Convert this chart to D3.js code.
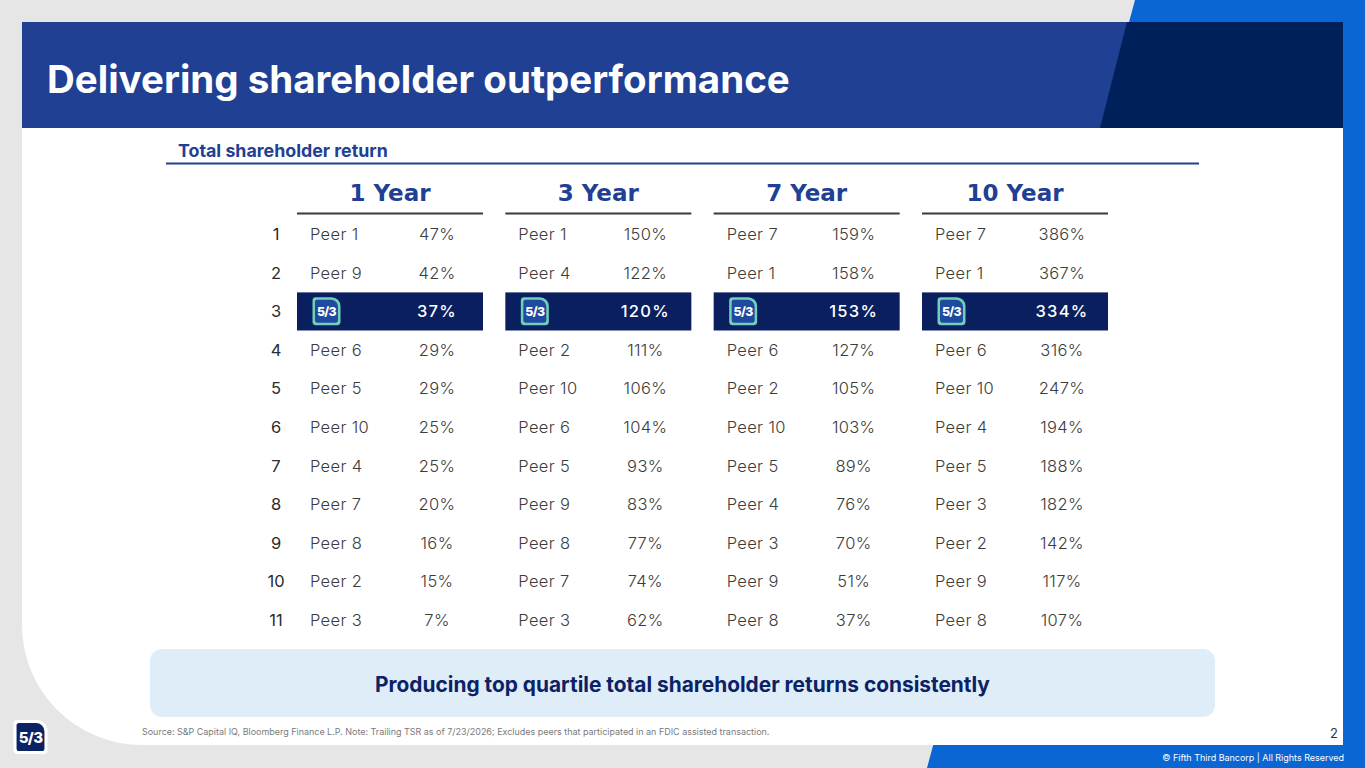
<!DOCTYPE html>
<html><head><meta charset="utf-8">
<script src="https://cdn.jsdelivr.net/npm/d3@7"></script>
<style>html,body{margin:0;padding:0;background:#e6e6e6;overflow:hidden}svg{display:block}</style>
</head><body>
<script>
const periods = ["1 Year","3 Year","7 Year","10 Year"];
const ranks = [1,2,3,4,5,6,7,8,9,10,11];
const names1 = ["Peer 1","Peer 9","Fifth Third","Peer 6","Peer 5","Peer 10","Peer 4","Peer 7","Peer 8","Peer 2","Peer 3"];
const values1 = [47,42,37,29,29,25,25,20,16,15,7];
const names3 = ["Peer 1","Peer 4","Fifth Third","Peer 2","Peer 10","Peer 6","Peer 5","Peer 9","Peer 8","Peer 7","Peer 3"];
const values3 = [150,122,120,111,106,104,93,83,77,74,62];
const names7 = ["Peer 7","Peer 1","Fifth Third","Peer 6","Peer 2","Peer 10","Peer 5","Peer 4","Peer 3","Peer 9","Peer 8"];
const values7 = [159,158,153,127,105,103,89,76,70,51,37];
const names10 = ["Peer 7","Peer 1","Fifth Third","Peer 6","Peer 10","Peer 4","Peer 5","Peer 3","Peer 2","Peer 9","Peer 8"];
const values10 = [386,367,334,316,247,194,188,182,142,117,107];
const highlightName = "Fifth Third";

const title = "Delivering shareholder outperformance";
const subtitle = "Total shareholder return";
const callout = "Producing top quartile total shareholder returns consistently";
const source = "Source: S&P Capital IQ, Bloomberg Finance L.P. Note: Trailing TSR as of 7/23/2026; Excludes peers that participated in an FDIC assisted transaction.";
const copyright = "© Fifth Third Bancorp | All Rights Reserved";
const pageNo = "2";

const W = 1365, H = 768;
const FONT = "Inter, 'Noto Sans', sans-serif";
const WIDE = "'DejaVu Sans', Inter, sans-serif";
const svg = d3.select("body").append("svg").attr("width", W).attr("height", H);

function fit(sel, w) {
  const n = sel.node();
  const fs = parseFloat(sel.attr("font-size"));
  const len = n.getComputedTextLength();
  if (len > 0) sel.attr("font-size", fs * w / len);
  return sel;
}

// background
svg.append("rect").attr("width", W).attr("height", H).attr("fill", "#e6e6e6");
// bright blue shape
svg.append("path").attr("d", "M1135,0L1365,0L1365,768L927,768Z").attr("fill", "#0a66d3");
// white panel with rounded bottom-left corner
const px0 = 22, py0 = 22, px1 = 1343, py1 = 745, r = 120;
svg.append("path")
  .attr("d", `M${px0},${py0}H${px1}V${py1}H${px0 + r}A${r},${r} 0 0 1 ${px0},${py1 - r}Z`)
  .attr("fill", "#ffffff");
// header band
svg.append("rect").attr("x", px0).attr("y", py0).attr("width", px1 - px0).attr("height", 106).attr("fill", "#1f4093");
svg.append("path").attr("d", "M1127,22L1343,22L1343,128L1100,128Z").attr("fill", "#00205b");

// title
fit(svg.append("text").attr("x", 47).attr("y", 92.5).attr("fill", "#fff")
  .attr("font-family", FONT).attr("font-weight", 700).attr("font-size", 34).text(title), 743);

// subtitle
fit(svg.append("text").attr("x", 178).attr("y", 157).attr("fill", "#1f4093")
  .attr("font-family", FONT).attr("font-weight", 700).attr("font-size", 15).text(subtitle), 210);
svg.append("line").attr("x1", 166).attr("x2", 1199).attr("y1", 163.5).attr("y2", 163.5)
  .attr("stroke", "#1f4093").attr("stroke-width", 2);

// scales
const x = d3.scaleBand().domain(periods).range([297, 1108]).paddingInner(0.1072);
const y = d3.scaleBand().domain(ranks).range([214.7, 639.3]);
const cols = [
  {p: periods[0], names: names1, values: values1},
  {p: periods[1], names: names3, values: values3},
  {p: periods[2], names: names7, values: values7},
  {p: periods[3], names: names10, values: values10}
];

// column headers
const hdr = svg.append("g");
cols.forEach(c => {
  hdr.append("text").attr("x", x(c.p) + x.bandwidth() / 2).attr("y", 200.5)
    .attr("text-anchor", "middle").attr("fill", "#1f4093")
    .attr("font-family", WIDE).attr("font-weight", 700).attr("font-size", 23).text(c.p);
  hdr.append("line").attr("x1", x(c.p)).attr("x2", x(c.p) + x.bandwidth())
    .attr("y1", 213.5).attr("y2", 213.5).attr("stroke", "#3a3a3a").attr("stroke-width", 2);
});

const TS = 16.5, LS = 0.35;
// rank labels
svg.append("g").selectAll("text").data(ranks).join("text")
  .attr("x", 276).attr("y", d => y(d) + y.bandwidth() / 2 + 6)
  .attr("text-anchor", "middle").attr("fill", "#2b2b2b")
  .attr("font-family", FONT).attr("font-size", TS).text(d => d);

function logo(g, cx, cy, s, border, inner) {
  const h = s / 2, rr = s * 0.32, rs = s * 0.12;
  const shape = (hh, r1, r2) =>
    `M${cx - hh + r2},${cy - hh}H${cx + hh - r1}A${r1},${r1} 0 0 1 ${cx + hh},${cy - hh + r1}V${cy + hh - r2}A${r2},${r2} 0 0 1 ${cx + hh - r2},${cy + hh}H${cx - hh + r2}A${r2},${r2} 0 0 1 ${cx - hh},${cy + hh - r2}V${cy - hh + r2}A${r2},${r2} 0 0 1 ${cx - hh + r2},${cy - hh}Z`;
  g.append("path").attr("d", shape(h, rr, rs)).attr("fill", border);
  const i = s * 0.09;
  g.append("path").attr("d", shape(h - i, rr - i * 0.8, Math.max(1, rs - i * 0.5))).attr("fill", inner);
  g.append("text").attr("x", cx).attr("y", cy + s * 0.17).attr("text-anchor", "middle")
    .attr("fill", "#fff").attr("font-family", FONT).attr("font-weight", 800)
    .attr("font-size", s * 0.44).attr("letter-spacing", -0.6).text("5/3");
}

// table body
cols.forEach(c => {
  const g = svg.append("g");
  const x0 = x(c.p);
  const rows = ranks.map((r, i) => ({r, name: c.names[i], v: c.values[i]}));
  rows.forEach(d => {
    const cy = y(d.r) + y.bandwidth() / 2;
    if (d.name === highlightName) {
      g.append("rect").attr("x", x0).attr("y", y(d.r) + 0.5).attr("width", x.bandwidth())
        .attr("height", y.bandwidth() - 0.5).attr("fill", "#0a1f5f");
      logo(g, x0 + 29.5, cy, 28, "#6fd0b8", "#1f4aa0");
      g.append("text").attr("x", x0 + 140).attr("y", cy + 6).attr("text-anchor", "middle")
        .attr("fill", "#fff").attr("font-family", FONT).attr("font-weight", 500)
        .attr("font-size", TS).attr("letter-spacing", 1.3).text(d.v + "%");
    } else {
      g.append("text").attr("x", x0 + 13).attr("y", cy + 6)
        .attr("fill", "#3c3c3c").attr("font-family", FONT).attr("font-weight", 300)
        .attr("font-size", TS).attr("letter-spacing", LS).text(d.name);
      g.append("text").attr("x", x0 + 140).attr("y", cy + 6).attr("text-anchor", "middle")
        .attr("fill", "#3c3c3c").attr("font-family", FONT).attr("font-weight", 300)
        .attr("font-size", TS).attr("letter-spacing", LS).text(d.v + "%");
    }
  });
});

// callout
svg.append("rect").attr("x", 150).attr("y", 649).attr("width", 1065).attr("height", 68)
  .attr("rx", 12).attr("fill", "#dfedf9");
fit(svg.append("text").attr("x", 682.5).attr("y", 692).attr("text-anchor", "middle")
  .attr("fill", "#0b2265").attr("font-family", FONT).attr("font-weight", 700)
  .attr("font-size", 19).text(callout), 615);

// source
fit(svg.append("text").attr("x", 142).attr("y", 735).attr("fill", "#7a7a7a")
  .attr("font-family", FONT).attr("font-size", 8).text(source), 628);

// page number
svg.append("text").attr("x", 1338).attr("y", 738).attr("text-anchor", "end").attr("fill", "#333")
  .attr("font-family", FONT).attr("font-size", 13).text(pageNo);

// copyright
fit(svg.append("text").attr("x", 1344).attr("y", 760.5).attr("text-anchor", "end").attr("fill", "#ffffff")
  .attr("font-family", FONT).attr("font-size", 9).text(copyright), 182);

// footer logo
logo(svg.append("g"), 30.5, 737, 34, "#ffffff", "#0b2265");
</script>
</body></html>
